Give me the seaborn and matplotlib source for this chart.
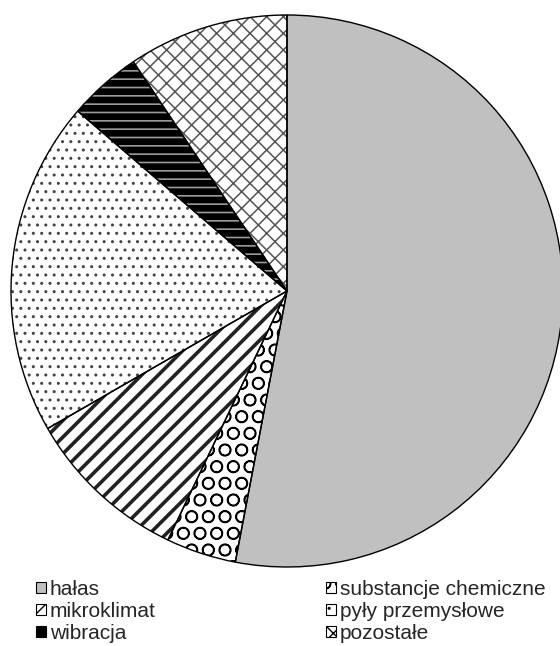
import matplotlib
matplotlib.use("Agg")
import matplotlib.pyplot as plt
from matplotlib.patches import Patch
import seaborn as sns

# share of each factor, clockwise from 12 o'clock
labels = ["hałas", "substancje chemiczne", "mikroklimat",
          "pyły przemysłowe", "wibracja", "pozostałe"]
values = [53.0, 4.1, 9.6, 19.6, 4.3, 9.4]

faces = ["#c0c0c0", "white", "white", "white", "black", "white"]
hatches = [None, "O", "//", "..", "--", "xx"]
hatch_colors = ["#c0c0c0", "black", "#222222", "#444444", "#9a9a9a", "#555555"]
hatch_widths = [1.0, 1.1, 2.6, 1.0, 1.2, 1.1]

sns.set_style("white")
plt.rcParams["font.family"] = ["Liberation Sans", "DejaVu Sans"]

fig = plt.figure(figsize=(5.6, 6.46), dpi=100)
ax = fig.add_axes([11 / 560, 79 / 646, 552 / 560, 552 / 646])

# fill + hatch layer (edge colour drives the hatch colour)
wedges, _ = ax.pie(values, startangle=90, counterclock=False, radius=1,
                   colors=faces, wedgeprops=dict(linewidth=0))
for w, h, hc, hw in zip(wedges, hatches, hatch_colors, hatch_widths):
    w.set_edgecolor(hc)
    if h:
        w.set_hatch(h)
    if hasattr(w, "set_hatch_linewidth"):
        w.set_hatch_linewidth(hw)

# outline layer
ax.pie(values, startangle=90, counterclock=False, radius=1,
       colors=["none"] * len(values),
       wedgeprops=dict(linewidth=1.0, edgecolor="black", fill=False))
ax.set_xlim(-1, 1)
ax.set_ylim(-1, 1)
ax.axis("off")

handles = []
for lab, fc, h in zip(labels, faces, hatches):
    p = Patch(facecolor=fc, edgecolor="black", hatch=h, linewidth=0.8, label=lab)
    handles.append(p)

legend_kw = dict(loc="upper left", frameon=False, fontsize=15,
                 handlelength=0.5, handleheight=0.45, handletextpad=0.15,
                 labelspacing=0.14, borderpad=0, borderaxespad=0)
col1 = [handles[0], handles[2], handles[4]]
col2 = [handles[1], handles[3], handles[5]]
fig.legend(handles=col1, bbox_to_anchor=(36 / 560, 1 - 580 / 646), **legend_kw)
fig.legend(handles=col2, bbox_to_anchor=(326 / 560, 1 - 580 / 646), **legend_kw)

fig.savefig("out.png", dpi=100)
